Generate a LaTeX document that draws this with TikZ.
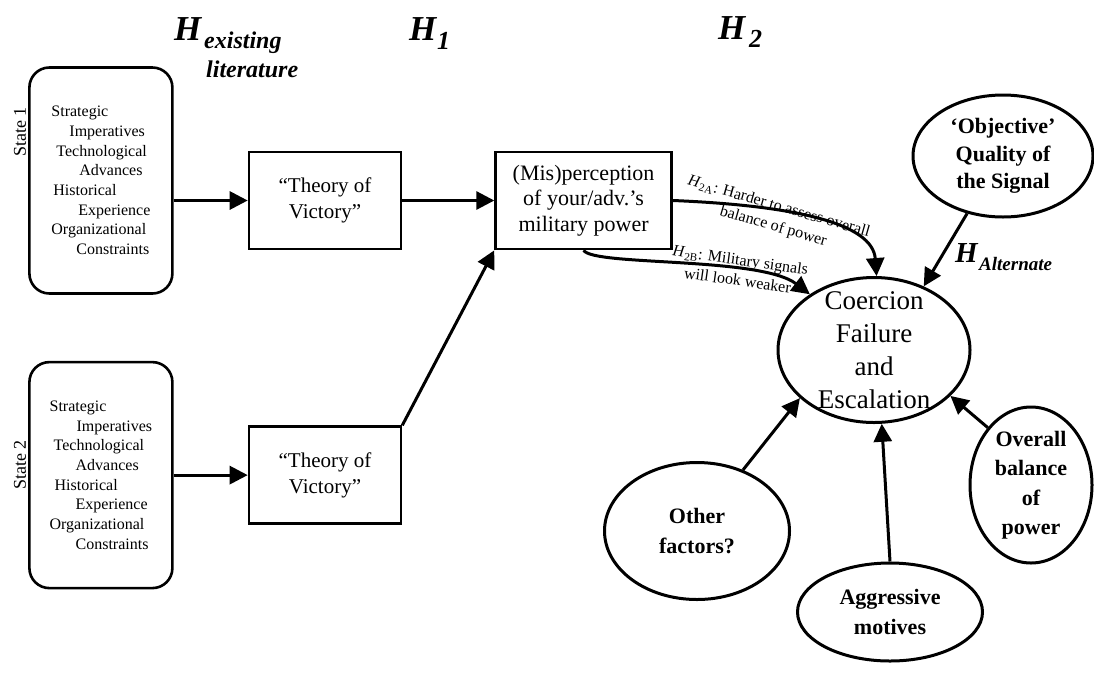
\documentclass[tikz,border=0pt]{standalone}
\usepackage{fontspec}
\setmainfont{Liberation Serif}
\usepackage{tikz}
\usetikzlibrary{arrows.meta, positioning, shapes.geometric}

\newcommand{\fsz}[2]{\fontsize{#1}{#2}\selectfont}
\newcommand{\ind}[1]{\hspace*{#1pt}}

\begin{document}
\begin{tikzpicture}[
  x=1pt, y=-1pt,
  every node/.style={align=center, inner sep=0pt},
  stateBox/.style={rectangle, rounded corners=20pt, draw=black, line width=2.6pt, minimum width=143pt, minimum height=226pt, align=left, font=\fsz{16}{19.7}},
  stateLabel/.style={font=\fsz{18}{20}, rotate=90},
  box/.style={rectangle, draw=black, line width=2.6pt, minimum height=97pt},
  theoryBox/.style={box, minimum width=152pt, font=\fsz{21}{26}},
  percBox/.style={box, minimum width=176pt, font=\fsz{22}{25.5}},
  bubble/.style={ellipse, draw=black, line width=3pt, font=\fsz{22}{29.5}\bfseries},
  hBig/.style={font=\fsz{35}{40}\bfseries\itshape, anchor=base west},
  hSub/.style={font=\fsz{24}{28}\bfseries\itshape, anchor=base west},
  arrow/.style={-{Triangle[length=18pt, width=18pt]}, line width=3pt},
  edgeLabel/.style={font=\fsz{16}{20.5}},
]
\useasboundingbox (0,0) rectangle (1094,673);

% ------------------- Hypothesis headers -------------------
\node[hBig] (hExist) at (174,40) {H};
\node[hSub] (hExistTop) at (204,48) {existing};
\node[hSub] (hExistBot) at (206,77) {literature};
\node[hBig] (hOne) at (409,40) {H};
\node[hSub, font=\fsz{26}{30}\bfseries\itshape] (hOneSub) at (437,49) {1};
\node[hBig] (hTwo) at (718,39) {H};
\node[hSub, font=\fsz{26}{30}\bfseries\itshape] (hTwoSub) at (749,47) {2};

% ------------------- Theories of victory ------------------
\node[theoryBox] (theory1) at (325,200.5) {``Theory of\\Victory''};
\node[theoryBox, below=175pt of theory1] (theory2) {``Theory of\\Victory''};
\node[percBox, right=92pt of theory1] (mis) {(Mis)perception\\of your/adv.'s\\military power};

% ------------------- States (left) ------------------------
\node[stateBox, left=74pt of theory1, yshift=20pt] (state1) {
  Strategic\\\ind{18}Imperatives\\\ind{5}Technological\\\ind{28}Advances\\
  \ind{2}Historical\\\ind{27}Experience\\Organizational\\\ind{25}Constraints};
\node[stateBox, left=74pt of theory2] (state2) {
  Strategic\\\ind{27}Imperatives\\\ind{4}Technological\\\ind{26}Advances\\
  \ind{5}Historical\\\ind{26}Experience\\Organizational\\\ind{26}Constraints};
\node[stateLabel] (state1Lbl) at (20,132) {State 1};
\node[stateLabel] (state2Lbl) at (20,465) {State 2};

\draw[arrow] (state1.east |- theory1.west) -- (theory1.west);
\draw[arrow] (state2.east |- theory2.west) -- (theory2.west);
\draw[arrow] (theory1) -- (mis);
\draw[arrow] (theory2.north east) -- (mis.south west);

% ------------------- Outcome and other causes -------------
\node[bubble, minimum width=192pt, minimum height=145pt] (coercion) at (874,350) {};
\node[font=\fsz{27}{33}] (coercionText) at (coercion) {Coercion\\Failure\\and\\Escalation};
\node[bubble, minimum width=180pt, minimum height=122pt, font=\fsz{22}{27.5}\bfseries] (objective) at (1003,156) {`Objective'\\Quality of\\the Signal};
\node[bubble, minimum width=185pt, minimum height=137pt] (other) at (697,531) {Other\\factors?};
\node[bubble, minimum width=185pt, minimum height=98pt] (aggressive) at (890,612) {Aggressive\\motives};
\node[bubble, minimum width=122pt, minimum height=156pt] (overall) at (1031,485) {Overall\\balance\\of\\power};

% H2 paths
\draw[arrow] (mis.east) .. controls +(121,5) and +(-4,-53) .. (coercion.88);
\draw[arrow] (mis.south) .. controls +(10,16) and +(-50,-38) .. (coercion.139);
\node[edgeLabel, rotate=-16] (h2aLabel) at (776,217) {\textit{H}\textsubscript{2A}: Harder to assess overall\\balance of power};
\node[edgeLabel, rotate=-8] (h2bLabel) at (739,270) {\textit{H}\textsubscript{2B}: Military signals\\will look weaker};

\draw[arrow] (objective.238) -- (coercion.52);
\node[hBig, font=\fsz{29}{32}\bfseries\itshape] (hAlt) at (955,262) {H};
\node[hSub, font=\fsz{19}{22}\bfseries\itshape] (hAltSub) at (979,270) {Alternate};

\draw[arrow] (other.53) -- (coercion.213);
\draw[arrow] (aggressive.north) -- (coercion.276);
\draw[arrow] (overall.127) -- (coercion.329);

\end{tikzpicture}
\end{document}
